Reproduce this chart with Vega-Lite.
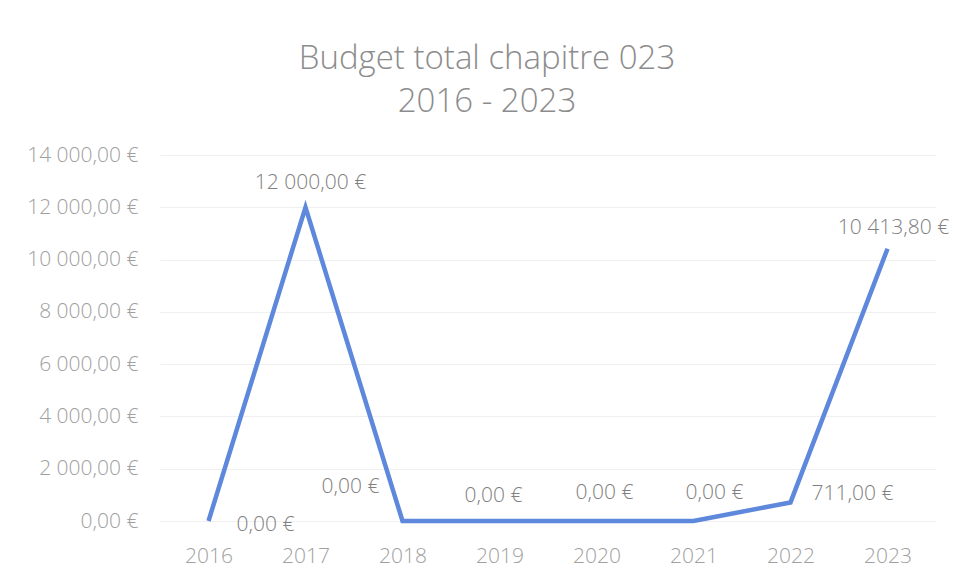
{
  "$schema": "https://vega.github.io/schema/vega-lite/v6.json",
  "autosize": {"type": "none"},
  "width": 776,
  "height": 366,
  "padding": {"left": 160, "top": 155, "right": 20, "bottom": 59},
  "background": "white",
  "config": {
    "locale": {"number": {"decimal": ",", "thousands": " ", "grouping": [3], "currency": ["", " €"]}},
    "view": {"stroke": null},
    "font": "Open Sans"
  },
  "title": {
    "text": ["Budget total chapitre 023", "2016 - 2023"],
    "fontSize": 33,
    "font": "Open Sans",
    "fontWeight": 300,
    "color": "#8c8c8c",
    "lineHeight": 43,
    "anchor": "middle",
    "dx": -61,
    "offset": 25
  },
  "data": {
    "values": [
      {"year": "2016", "budget": 0},
      {"year": "2017", "budget": 12000},
      {"year": "2018", "budget": 0},
      {"year": "2019", "budget": 0},
      {"year": "2020", "budget": 0},
      {"year": "2021", "budget": 0},
      {"year": "2022", "budget": 711},
      {"year": "2023", "budget": 10413.8}
    ]
  },
  "encoding": {
    "x": {
      "field": "year", "type": "ordinal", "title": null,
      "scale": {"type": "point", "padding": 0.5},
      "axis": {"labelAngle": 0, "domain": false, "ticks": false, "labelPadding": 24, "labelFontSize": 21, "labelFontWeight": 300, "labelColor": "#a0a0a0", "labelFont": "Open Sans"}
    },
    "y": {
      "field": "budget", "type": "quantitative", "title": null,
      "scale": {"domain": [0, 14000], "nice": false},
      "axis": {"values": [0, 2000, 4000, 6000, 8000, 10000, 12000, 14000], "format": "$,.2f", "domain": false, "ticks": false, "labelPadding": 22, "labelFontSize": 21, "labelFontWeight": 300, "labelColor": "#a0a0a0", "gridColor": "#efefef", "gridWidth": 1, "labelFont": "Open Sans"}
    }
  },
  "layer": [
    {"mark": {"type": "line", "color": "#5d88dc", "strokeWidth": 4.5, "strokeJoin": "miter"}},
    {"transform": [{"filter": "datum.year == '2016'"}], "mark": {"type": "text", "dx": 57, "dy": 4, "fontSize": 21, "fontWeight": 300, "color": "#808080"}, "encoding": {"text": {"field": "budget", "type": "quantitative", "format": "$,.2f"}}},
    {"transform": [{"filter": "datum.year == '2017'"}], "mark": {"type": "text", "dx": 5, "dy": -24, "fontSize": 21, "fontWeight": 300, "color": "#808080"}, "encoding": {"text": {"field": "budget", "type": "quantitative", "format": "$,.2f"}}},
    {"transform": [{"filter": "datum.year == '2018'"}], "mark": {"type": "text", "dx": -52, "dy": -34, "fontSize": 21, "fontWeight": 300, "color": "#808080"}, "encoding": {"text": {"field": "budget", "type": "quantitative", "format": "$,.2f"}}},
    {"transform": [{"filter": "datum.year == '2019'"}], "mark": {"type": "text", "dx": -6, "dy": -25, "fontSize": 21, "fontWeight": 300, "color": "#808080"}, "encoding": {"text": {"field": "budget", "type": "quantitative", "format": "$,.2f"}}},
    {"transform": [{"filter": "datum.year == '2020'"}], "mark": {"type": "text", "dx": 8, "dy": -28, "fontSize": 21, "fontWeight": 300, "color": "#808080"}, "encoding": {"text": {"field": "budget", "type": "quantitative", "format": "$,.2f"}}},
    {"transform": [{"filter": "datum.year == '2021'"}], "mark": {"type": "text", "dx": 21, "dy": -28, "fontSize": 21, "fontWeight": 300, "color": "#808080"}, "encoding": {"text": {"field": "budget", "type": "quantitative", "format": "$,.2f"}}},
    {"transform": [{"filter": "datum.year == '2022'"}], "mark": {"type": "text", "dx": 62, "dy": -8, "fontSize": 21, "fontWeight": 300, "color": "#808080"}, "encoding": {"text": {"field": "budget", "type": "quantitative", "format": "$,.2f"}}},
    {"transform": [{"filter": "datum.year == '2023'"}], "mark": {"type": "text", "dx": 6, "dy": -21, "fontSize": 21, "fontWeight": 300, "color": "#808080"}, "encoding": {"text": {"field": "budget", "type": "quantitative", "format": "$,.2f"}}}
  ]
}
